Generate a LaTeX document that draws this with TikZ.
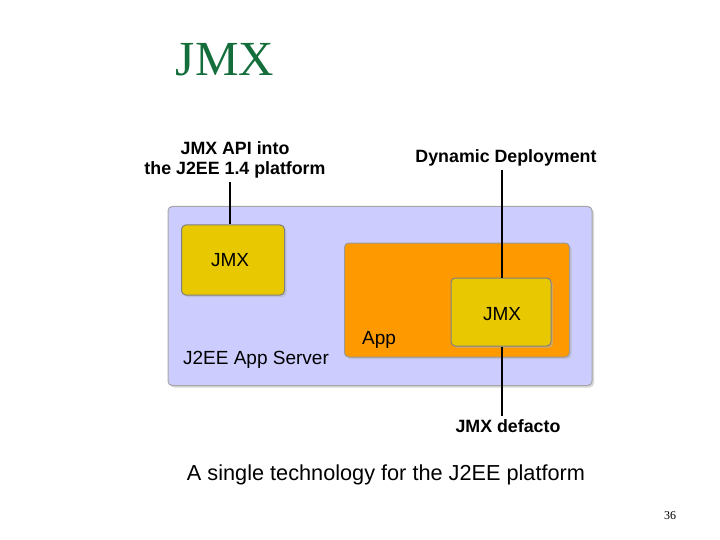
\documentclass[tikz,border=0pt]{standalone}
\usepackage{fontspec}
\setmainfont{Liberation Sans}
\newfontfamily\titlefont{Liberation Serif}
\usetikzlibrary{positioning,shadows}
\definecolor{jmxgreen}{RGB}{20,110,60}
\definecolor{lavender}{RGB}{204,204,255}
\definecolor{jmxyellow}{RGB}{232,200,0}
\definecolor{apporange}{RGB}{255,153,0}
\tikzset{
    box/.style={
        rectangle,
        rounded corners=1.5mm,
        draw=black!35,
        line width=1pt,
        drop shadow={shadow xshift=2pt,shadow yshift=-2pt,fill=black!30},
    },
    jmx box/.style={
        box,
        fill=jmxyellow,
        draw=black!50,
    },
    label/.style={
        font=\bfseries\fontsize{17.8}{20}\selectfont,
        align=center,
    },
    inside/.style={
        font=\fontsize{19}{21}\selectfont,
    },
    connector/.style={
        line width=1.5pt,
    },
}
\begin{document}
\begin{tikzpicture}[x=1pt,y=-1pt]
    \useasboundingbox (0,0) rectangle (720,540);
    \node[font=\titlefont\fontsize{49}{49}\selectfont,text=jmxgreen](title) at (225,60){JMX};

    \node[box,fill=lavender,minimum width=424pt,minimum height=179pt](server) at (380,296){};
    \node[box,fill=apporange,draw=black!40,minimum width=225pt,minimum height=114pt](app) at (457,300){};
    \node[jmx box,minimum width=103pt,minimum height=70pt](jmxa) at (233,260){};
    \node[inside](jmxat) at (230,260){JMX};
    \node[jmx box,minimum width=100pt,minimum height=68pt](jmxb) at (501,312){};
    \node[inside](jmxbt) at (502,314){JMX};
    \node[inside](applbl) at (379,340){App};
    \node[inside](srvlbl) at (256,360){J2EE App Server};

    \node[label](api) at (235,160){JMX API into\\the J2EE 1.4 platform};
    \node[label](dyn) at (506,158){Dynamic Deployment};
    \node[label](defacto) at (508,426){JMX defacto};
    \node[font=\fontsize{21.7}{24}\selectfont](caption) at (386,475){A single technology for the J2EE platform};
    \node[font=\titlefont\fontsize{12}{12}\selectfont](page) at (670,516){36};

    \draw[connector] (api.south -| jmxat) -- (jmxat |- jmxa.north);
    \draw[connector] (dyn.south -| jmxbt) -- (jmxbt |- jmxb.north);
    \draw[connector] (jmxbt |- jmxb.south) -- (defacto.north -| jmxbt);
\end{tikzpicture}
\end{document}
